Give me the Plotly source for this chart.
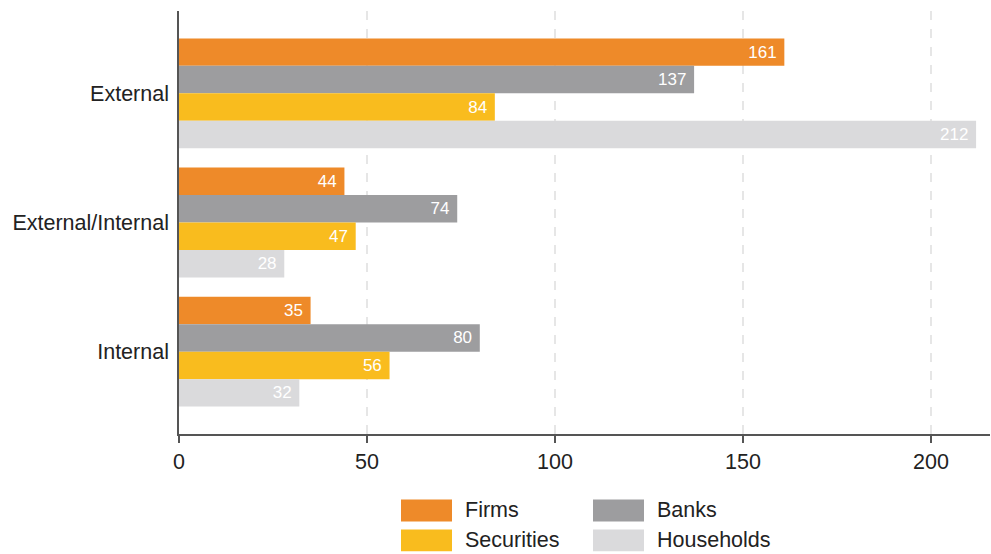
import plotly.graph_objects as go

# Categories (top to bottom) and series values
categories = ["External", "External/Internal", "Internal"]
series_names = ["Firms", "Banks", "Securities", "Households"]
firms = [161, 44, 35]
banks = [137, 74, 80]
securities = [84, 47, 56]
households = [212, 28, 32]
x_ticks = [0, 50, 100, 150, 200]

colors = ["#EE8A29", "#9D9D9F", "#F9BC1E", "#DADADC"]
values = [firms, banks, securities, households]

FONT = "Liberation Sans, Arial, sans-serif"
W, H = 991, 554
L, R, T, B = 179, 1, 11, 119.5
plot_w = W - L - R
plot_h = H - T - B

fig = go.Figure()
for name, vals, col in zip(series_names, values, colors):
    fig.add_trace(go.Bar(
        y=categories, x=vals, orientation="h", name=name,
        marker=dict(color=col, line=dict(width=0)),
        text=vals, texttemplate="%{x}\u00a0",
        textposition="inside", insidetextanchor="end",
        textfont=dict(color="white", size=17, family=FONT),
        constraintext="none", showlegend=False,
    ))

# Custom legend: wide swatches laid out in two columns
def px_x(x):
    return (x - L) / plot_w

def px_y(y):
    return (H - B - y) / plot_h

legend_slots = [(401, 500), (593, 500), (401, 530), (593, 530)]
for (lx, ly), name, col in zip(legend_slots, series_names, colors):
    fig.add_shape(type="rect", xref="paper", yref="paper",
                  x0=px_x(lx), x1=px_x(lx + 51), y0=px_y(ly), y1=px_y(ly + 22),
                  fillcolor=col, line=dict(width=0))
    fig.add_annotation(xref="paper", yref="paper", x=px_x(lx + 62), y=px_y(ly + 11),
                       text=name, showarrow=False, xanchor="left", yanchor="middle",
                       font=dict(size=21.5, color="#222222", family=FONT))

fig.update_layout(
    width=W, height=H,
    margin=dict(l=L, r=R, t=T, b=B, pad=0),
    paper_bgcolor="white", plot_bgcolor="white",
    barmode="group", bargap=0.15, bargroupgap=0,
    font=dict(family=FONT, size=21.5, color="#222222"),
    xaxis=dict(
        range=[0, 215.7], tickvals=x_ticks, ticktext=[str(v) for v in x_ticks],
        showgrid=True, gridcolor="#E6E6E6", griddash="dash", gridwidth=1.5,
        zeroline=False, showline=True, linecolor="#555555", linewidth=1.5,
        ticks="outside", ticklen=7, tickwidth=1.5, tickcolor="#555555",
        tickfont=dict(size=21.5, color="#222222"),
    ),
    yaxis=dict(
        categoryorder="array", categoryarray=categories,
        range=[2.637, -0.637],
        showgrid=False, zeroline=False, showline=True,
        linecolor="#555555", linewidth=1.5, ticks="",
        ticklabelstandoff=4,
        tickfont=dict(size=21.5, color="#222222"),
    ),
)

fig.write_html("out.html")
